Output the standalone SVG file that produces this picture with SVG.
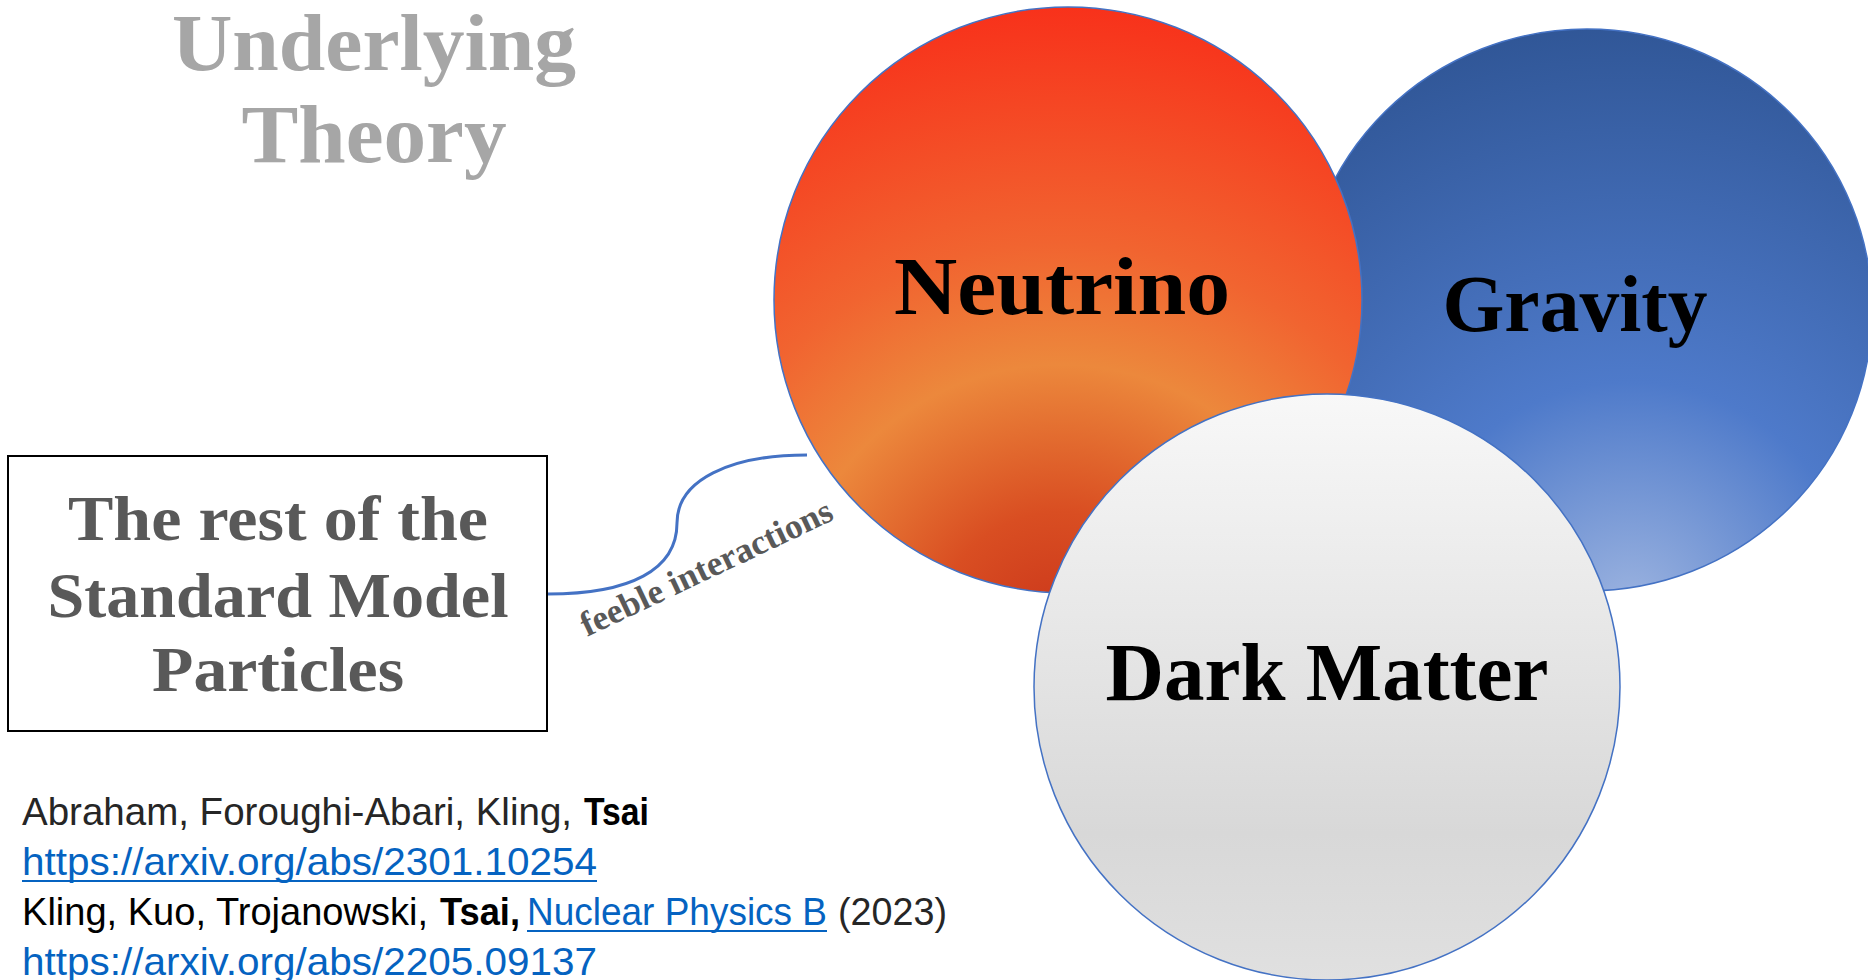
<svg xmlns="http://www.w3.org/2000/svg" width="1868" height="980" viewBox="0 0 1868 980">
<defs>
<radialGradient id="gNeu" gradientUnits="userSpaceOnUse" cx="1060" cy="640" r="640">
<stop offset="0" stop-color="#c9341a"/>
<stop offset="0.2" stop-color="#d94e22"/>
<stop offset="0.43" stop-color="#ec883c"/>
<stop offset="0.62" stop-color="#f16430"/>
<stop offset="1" stop-color="#f8301a"/>
</radialGradient>
<radialGradient id="gGrav" gradientUnits="userSpaceOnUse" cx="1630" cy="610" r="600">
<stop offset="0" stop-color="#9db4e0"/>
<stop offset="0.38" stop-color="#4e7aca"/>
<stop offset="1" stop-color="#2f5595"/>
</radialGradient>
<linearGradient id="gDM" x1="0" y1="0" x2="0" y2="1">
<stop offset="0" stop-color="#f8f8f8"/>
<stop offset="0.75" stop-color="#d8d8d8"/>
<stop offset="1" stop-color="#e0e0e0"/>
</linearGradient>
<style>
.circ{stroke:#4472c4;stroke-width:1.5}
.big{font-family:"Liberation Serif",serif;font-weight:bold;text-anchor:middle}
.ref{font-family:"Liberation Sans",sans-serif;font-size:39px}
.link{fill:#0563c1}
.ul{stroke:#0563c1;stroke-width:2}
</style>
</defs>
<g id="title">
<text class="big" x="374" y="70" font-size="81" fill="#a6a6a6" textLength="404" lengthAdjust="spacingAndGlyphs">Underlying</text>
<text class="big" x="374" y="162" font-size="82" fill="#a6a6a6" textLength="265" lengthAdjust="spacingAndGlyphs">Theory</text>
</g>
<g id="gravity">
<ellipse class="circ" cx="1587" cy="310" rx="285" ry="281" fill="url(#gGrav)"/>
<text class="big" x="1575" y="331" font-size="80" fill="#000" textLength="265" lengthAdjust="spacingAndGlyphs">Gravity</text>
</g>
<g id="neutrino">
<ellipse class="circ" cx="1068" cy="300" rx="294" ry="293" fill="url(#gNeu)"/>
<text class="big" x="1062" y="314" font-size="83" fill="#000" textLength="336" lengthAdjust="spacingAndGlyphs">Neutrino</text>
</g>
<g id="darkmatter">
<ellipse class="circ" cx="1327" cy="687" rx="293" ry="293" fill="url(#gDM)"/>
<text class="big" x="1327" y="700" font-size="82" fill="#000" textLength="443" lengthAdjust="spacingAndGlyphs">Dark Matter</text>
</g>
<g id="sm">
<rect x="8" y="456" width="539" height="275" fill="#fff" stroke="#000" stroke-width="2"/>
<text class="big" x="278" y="540" font-size="64" fill="#595959" textLength="420" lengthAdjust="spacingAndGlyphs">The rest of the</text>
<text class="big" x="278" y="617" font-size="64" fill="#595959" textLength="461" lengthAdjust="spacingAndGlyphs">Standard Model</text>
<text class="big" x="278" y="691" font-size="64" fill="#595959" textLength="252" lengthAdjust="spacingAndGlyphs">Particles</text>
</g>
<g id="connectors">
<path d="M548,594 C630,594 677,570 677,523 C677,480 730,455 807,455" fill="none" stroke="#4472c4" stroke-width="3"/>
<text x="587" y="637" transform="rotate(-25.4 587 637)" font-family="Liberation Serif,serif" font-weight="bold" font-size="35" fill="#595959" textLength="275" lengthAdjust="spacingAndGlyphs">feeble interactions</text>
</g>
<g id="refs">
<text class="ref" x="22" y="825" fill="#262626" textLength="550" lengthAdjust="spacingAndGlyphs">Abraham, Foroughi-Abari, Kling,</text>
<text class="ref" x="584" y="825" fill="#000" font-weight="bold" textLength="65" lengthAdjust="spacingAndGlyphs">Tsai</text>
<text class="ref link" x="22" y="875" textLength="575" lengthAdjust="spacingAndGlyphs">https://arxiv.org/abs/2301.10254</text>
<line class="ul" x1="22" y1="881" x2="597" y2="881"/>
<text class="ref" x="22" y="925" fill="#000" textLength="406" lengthAdjust="spacingAndGlyphs">Kling, Kuo, Trojanowski,</text>
<text class="ref" x="440" y="925" fill="#000" font-weight="bold" textLength="80" lengthAdjust="spacingAndGlyphs">Tsai,</text>
<text class="ref link" x="527" y="925" textLength="300" lengthAdjust="spacingAndGlyphs">Nuclear Physics B</text>
<line class="ul" x1="527" y1="931" x2="827" y2="931"/>
<text class="ref" x="838" y="925" fill="#262626" textLength="109" lengthAdjust="spacingAndGlyphs">(2023)</text>
<text class="ref link" x="22" y="975" textLength="575" lengthAdjust="spacingAndGlyphs">https://arxiv.org/abs/2205.09137</text>
</g>
</svg>
